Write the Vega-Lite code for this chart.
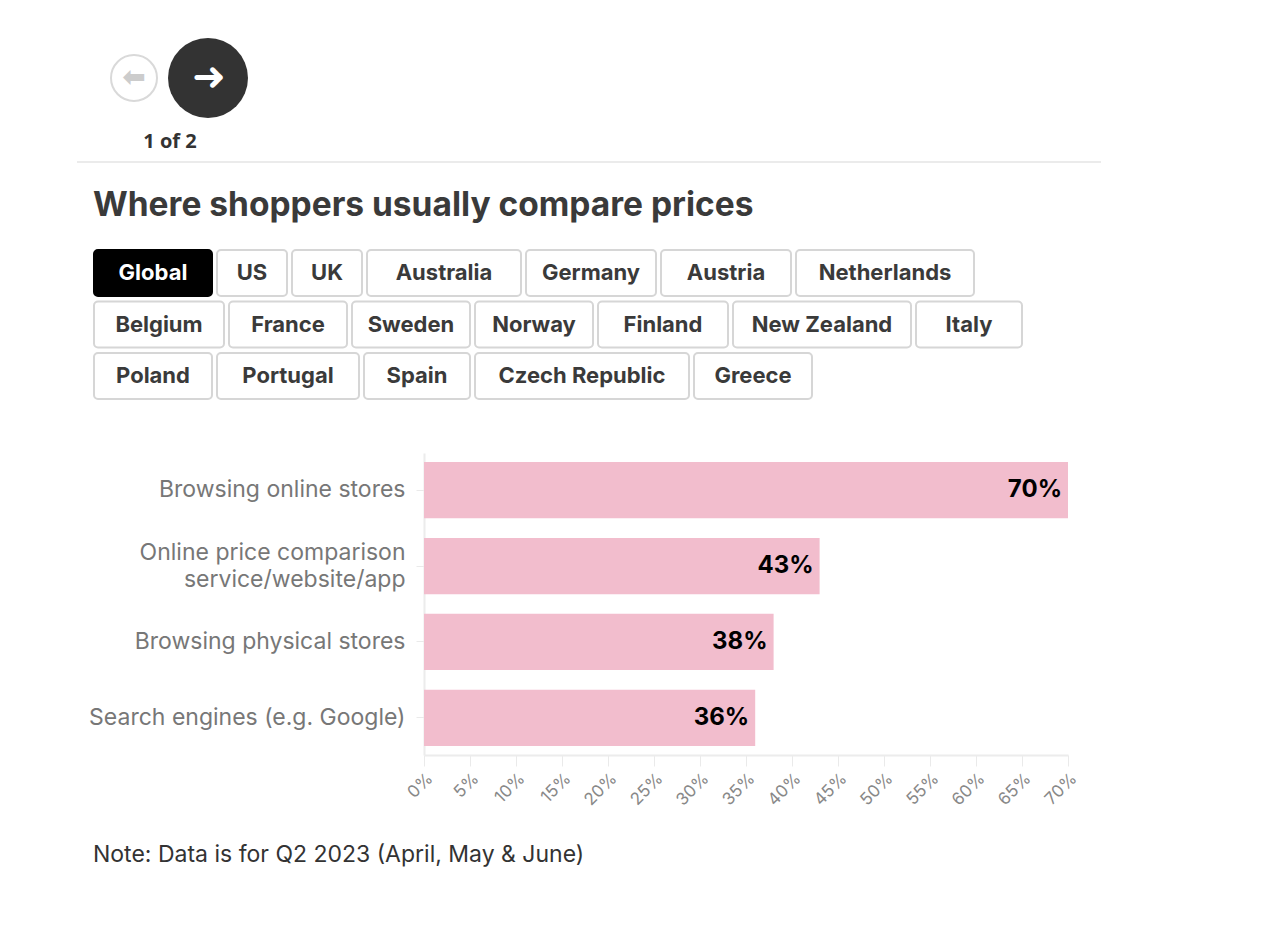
{
  "$schema": "https://vega.github.io/schema/vega-lite/v6.json",
  "padding": {"left": 75, "top": 30, "right": 10, "bottom": 10},
  "spacing": 0,
  "background": "#ffffff",
  "config": {"view": {"stroke": null}, "font": "Inter"},
  "vconcat": [
    {
      "width": 676,
      "height": 219,
      "data": {"values": [{"page": "1 of 2", "heading": "Where shoppers usually compare prices"}]},
      "layer": [
        {
          "mark": {"type": "point", "shape": "circle", "filled": true, "fill": "#ffffff", "stroke": "#d9d9d9", "strokeWidth": 2, "size": 2116, "opacity": 1},
          "encoding": {
            "x": {"datum": 58, "type": "quantitative", "scale": {"domain": [0, 1024], "range": [-348, 676], "nice": false}, "axis": null},
            "y": {"datum": 48, "type": "quantitative", "scale": {"domain": [0, 219], "nice": false, "reverse": true}, "axis": null}
          }
        },
        {
          "mark": {"type": "point", "shape": "circle", "filled": true, "fill": "#333333", "size": 6400, "opacity": 1},
          "encoding": {
            "x": {"datum": 132, "type": "quantitative"},
            "y": {"datum": 48, "type": "quantitative"}
          }
        },
        {
          "mark": {"type": "text", "text": "⬅", "font": "DejaVu Sans", "fontWeight": "bold", "fontSize": 28, "color": "#cccccc", "align": "center", "baseline": "middle"},
          "encoding": {
            "x": {"datum": 58, "type": "quantitative"},
            "y": {"datum": 48, "type": "quantitative"}
          }
        },
        {
          "mark": {"type": "text", "text": "➜", "font": "DejaVu Sans", "fontWeight": "bold", "fontSize": 40, "color": "#ffffff", "align": "center", "baseline": "middle"},
          "encoding": {
            "x": {"datum": 133, "type": "quantitative"},
            "y": {"datum": 48, "type": "quantitative"}
          }
        },
        {
          "mark": {"type": "text", "font": "Open Sans", "fontWeight": "bold", "fontSize": 20, "color": "#333333", "align": "center", "baseline": "alphabetic"},
          "encoding": {
            "x": {"datum": 94, "type": "quantitative"},
            "y": {"datum": 118, "type": "quantitative"},
            "text": {"field": "page"}
          }
        },
        {
          "mark": {"type": "rule", "color": "#ebebeb", "strokeWidth": 2},
          "encoding": {
            "x": {"datum": 1, "type": "quantitative"},
            "x2": {"datum": 1025},
            "y": {"datum": 132, "type": "quantitative"}
          }
        },
        {
          "mark": {"type": "text", "fontWeight": "bold", "fontSize": 33.5, "color": "#3a3a3a", "align": "left", "baseline": "alphabetic"},
          "encoding": {
            "x": {"datum": 17, "type": "quantitative"},
            "y": {"datum": 186, "type": "quantitative"},
            "text": {"field": "heading"}
          }
        }
      ]
    },
    {
      "width": 676,
      "height": 203,
      "data": {
        "values": [
          {"tab": "Global", "row": 1},
          {"tab": "US", "row": 1},
          {"tab": "UK", "row": 1},
          {"tab": "Australia", "row": 1},
          {"tab": "Germany", "row": 1},
          {"tab": "Austria", "row": 1},
          {"tab": "Netherlands", "row": 1},
          {"tab": "Belgium", "row": 2},
          {"tab": "France", "row": 2},
          {"tab": "Sweden", "row": 2},
          {"tab": "Norway", "row": 2},
          {"tab": "Finland", "row": 2},
          {"tab": "New Zealand", "row": 2},
          {"tab": "Italy", "row": 2},
          {"tab": "Poland", "row": 3},
          {"tab": "Portugal", "row": 3},
          {"tab": "Spain", "row": 3},
          {"tab": "Czech Republic", "row": 3},
          {"tab": "Greece", "row": 3}
        ]
      },
      "transform": [
        {"calculate": "12 * length(datum.tab) + 46", "as": "w"},
        {"calculate": "datum.w + 5", "as": "step"},
        {"window": [{"op": "sum", "field": "step", "as": "cum"}], "groupby": ["row"], "frame": [null, 0]},
        {"calculate": "13 + datum.cum", "as": "xe"},
        {"calculate": "datum.xe - datum.w", "as": "xs"},
        {"calculate": "(datum.xs + datum.xe) / 2", "as": "xc"}
      ],
      "encoding": {
        "y": {"field": "row", "type": "ordinal", "scale": {"range": [0, 149], "paddingInner": 0.107, "paddingOuter": 0}, "axis": null}
      },
      "layer": [
        {
          "mark": {"type": "rect", "cornerRadius": 4, "strokeWidth": 2},
          "encoding": {
            "x": {"field": "xs", "type": "quantitative", "scale": {"domain": [0, 1024], "range": [-348, 676], "nice": false}, "axis": null},
            "x2": {"field": "xe"},
            "fill": {"condition": {"test": "datum.tab === 'Global'", "value": "#000000"}, "value": "#ffffff"},
            "stroke": {"condition": {"test": "datum.tab === 'Global'", "value": "#000000"}, "value": "#d6d6d6"}
          }
        },
        {
          "mark": {"type": "text", "fontSize": 22, "fontWeight": "bold", "align": "center", "baseline": "middle"},
          "encoding": {
            "x": {"field": "xc", "type": "quantitative"},
            "text": {"field": "tab"},
            "color": {"condition": {"test": "datum.tab === 'Global'", "value": "#ffffff"}, "value": "#3a3a3a"}
          }
        }
      ]
    },
    {
      "width": 644,
      "height": 302,
      "title": {"text": "Note: Data is for Q2 2023 (April, May & June)", "orient": "bottom", "anchor": "start", "frame": "bounds", "fontSize": 23, "fontWeight": "normal", "color": "#333333", "offset": 36, "dx": 18},
      "data": {
        "values": [
          {"channel": "Browsing online stores", "share": 0.70},
          {"channel": "Online price comparison service/website/app", "share": 0.43},
          {"channel": "Browsing physical stores", "share": 0.38},
          {"channel": "Search engines (e.g. Google)", "share": 0.36}
        ]
      },
      "encoding": {
        "y": {
          "field": "channel", "type": "nominal", "sort": null,
          "scale": {"paddingInner": 0.26, "paddingOuter": 0.12},
          "axis": {
            "title": null, "labelFontSize": 23, "labelColor": "#777777", "labelPadding": 11,
            "tickSize": 8, "tickColor": "#eaeaea", "domainColor": "#ececec", "domainWidth": 2,
            "minExtent": 349, "maxExtent": 349, "labelLimit": 400, "labelLineHeight": 27,
            "labelOffset": {"condition": {"test": "datum.value == 'Online price comparison service/website/app'", "value": -13}, "value": 0},
            "labelExpr": "datum.label == 'Online price comparison service/website/app' ? ['Online price comparison', 'service/website/app'] : datum.label"
          }
        },
        "x": {
          "field": "share", "type": "quantitative",
          "scale": {"domain": [0, 0.7], "nice": false},
          "axis": {
            "title": null, "values": [0, 0.05, 0.1, 0.15, 0.2, 0.25, 0.3, 0.35, 0.4, 0.45, 0.5, 0.55, 0.6, 0.65, 0.7],
            "format": ".0%", "labelAngle": -45, "labelFontSize": 17, "labelColor": "#888888",
            "tickSize": 11, "tickColor": "#eaeaea", "domainColor": "#ececec", "domainWidth": 2,
            "grid": false, "labelPadding": 4
          }
        }
      },
      "layer": [
        {"mark": {"type": "bar", "color": "#f2bdcd"}},
        {
          "mark": {"type": "text", "align": "right", "baseline": "middle", "dx": -6, "fontSize": 24, "fontWeight": "bold", "color": "#000000"},
          "encoding": {"text": {"field": "share", "type": "quantitative", "format": ".0%"}}
        }
      ]
    }
  ]
}
